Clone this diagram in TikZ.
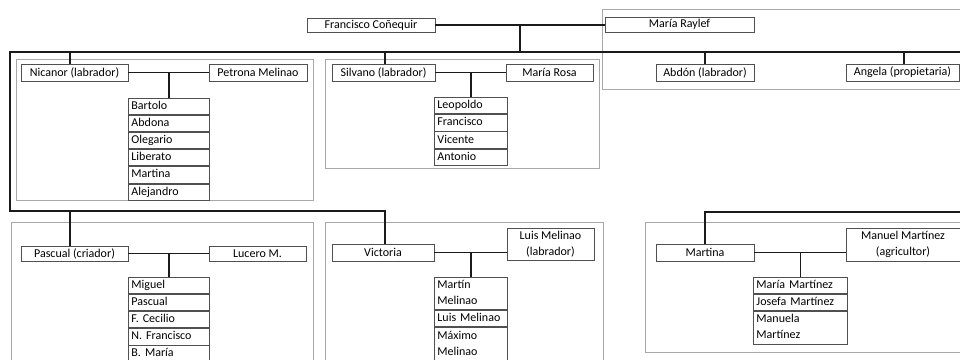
\documentclass[tikz,border=0pt]{standalone}
\usepackage{fontspec}
\setmainfont{Carlito}
\usetikzlibrary{positioning,calc}
\definecolor{boxc}{HTML}{505050}
\definecolor{framec}{HTML}{A8A8A8}
\definecolor{linec}{HTML}{1A1A1A}
\begin{document}
\begin{tikzpicture}[x=1pt,y=-1pt, font=\fontsize{12}{16}\selectfont,
 pbox/.style={draw=boxc, line width=0.9pt, fill=white, inner sep=0pt, align=center},
 kid/.style={draw=boxc, line width=0.9pt, fill=white, inner xsep=3pt, inner ysep=0pt, anchor=north west, align=left, minimum height=16.3pt, text height=8.6pt, text depth=2.6pt},
 two/.style={text depth=18.6pt},
 kidA/.style={kid, text width=75pt},
 kidB/.style={kid, text width=67pt},
 kidC/.style={kid, text width=88pt},
 frame/.style={draw=framec, line width=1pt},
 gen/.style={draw=linec, line width=1.8pt},
 couple/.style={draw=linec, line width=1.5pt},
]
\useasboundingbox (0,0) rectangle (960,359);
\clip (0,0) rectangle (960,359);
% frames
\draw[frame] (602,9) rectangle (965,89);
\draw[frame] (16,59) rectangle (313,200);
\draw[frame] (325,59) rectangle (599,168);
\draw[frame] (11,222) rectangle (313,370);
\draw[frame] (325,222) rectangle (603,370);
\draw[frame] (645,222) rectangle (970,352);
% persons
\node[pbox, minimum width=128pt, minimum height=14pt] (fran) at (371,25) {Francisco Coñequir};
\node[pbox, minimum width=149pt, minimum height=15pt] (rayl) at (679.5,24.5) {María Raylef};
\node[pbox, minimum width=107pt, minimum height=17pt] (nic) at (74.5,72.5) {Nicanor (labrador)};
\node[pbox, minimum width=98pt, minimum height=17pt] (pet) at (258,72.5) {Petrona Melinao};
\node[pbox, minimum width=103pt, minimum height=17pt] (sil) at (383.5,72.5) {Silvano (labrador)};
\node[pbox, minimum width=87pt, minimum height=17pt] (mros) at (549.5,72.5) {María Rosa};
\node[pbox, minimum width=98pt, minimum height=17pt] (abd) at (705,72.5) {Abdón (labrador)};
\node[pbox, minimum width=113pt, minimum height=17pt] (ang) at (902.5,72.5) {Angela (propietaria)};
\node[pbox, minimum width=107pt, minimum height=15pt] (pas) at (74.5,253.5) {Pascual (criador)};
\node[pbox, minimum width=97pt, minimum height=15pt] (luc) at (257.5,253.5) {Lucero M.};
\node[pbox, minimum width=102pt, minimum height=17pt] (vic) at (383,252.5) {Victoria};
\node[pbox, minimum width=87pt, minimum height=32pt] (lui) at (550.5,244) {Luis Melinao\\(labrador)};
\node[pbox, minimum width=98pt, minimum height=17pt] (mar) at (705,252.5) {Martina};
\node[pbox, minimum width=114pt, minimum height=33pt] (man) at (903,244.5) {Manuel Martínez\\(agricultor)};
% children of Nicanor
\node[kidA] (a1) at (128,97.5) {Bartolo};
\node[kidA, below=0pt of a1] (a2) {Abdona};
\node[kidA, below=0pt of a2] (a3) {Olegario};
\node[kidA, below=0pt of a3] (a4) {Liberato};
\node[kidA, below=0pt of a4] (a5) {Martina};
\node[kidA, below=0pt of a5] (a6) {Alejandro};
% children of Silvano
\node[kidB] (b1) at (434,97) {Leopoldo};
\node[kidB, below=0pt of b1] (b2) {Francisco};
\node[kidB, below=0pt of b2] (b3) {Vicente};
\node[kidB, below=0pt of b3] (b4) {Antonio};
% children of Pascual
\node[kidA, minimum height=16.2pt] (c1) at (128,277) {Miguel};
\node[kidA, minimum height=16.2pt, below=0pt of c1] (c2) {Pascual};
\node[kidA, minimum height=16.2pt, below=0pt of c2] (c3) {F. Cecilio};
\node[kidA, minimum height=16.2pt, below=0pt of c3] (c4) {N. Francisco};
\node[kidA, minimum height=16.2pt, below=0pt of c4] (c5) {B. María};
% children of Victoria
\node[kidB, two, minimum height=32pt] (d1) at (434,277) {Martín\\Melinao};
\node[kidB, below=0pt of d1] (d2) {Luis Melinao};
\node[kidB, two, minimum height=33pt, below=0pt of d2] (d3) {Máximo\\Melinao};
% children of Martina
\node[kidC, minimum height=16pt] (e1) at (753,277) {María Martínez};
\node[kidC, minimum height=16pt, below=0pt of e1] (e2) {Josefa Martínez};
\node[kidC, two, minimum height=33pt, below=0pt of e2] (e3) {Manuela\\Martínez};
% generation lines
\coordinate (g1l) at (10,52);
\coordinate (g1r) at (960,52);
\coordinate (g2l) at (10,211);
\coordinate (g2r) at (385,211);
\coordinate (g3l) at (705,212);
\coordinate (g3r) at (960,212);
\coordinate (top) at ($(fran.east)!0.5!(rayl.west)$);
\draw[couple] (fran.east) -- (fran.east -| rayl.west);
\draw[gen] (top) -- (top |- g1l);
\draw[gen] (g1r) -- (g1l) -- (g2l) -- (g2r) -- (g2r |- vic.north);
\draw[gen] ([xshift=-4.5pt]nic.north) -- ([xshift=-4.5pt]nic.north |- g1l);
\draw[gen] ([xshift=1.5pt]sil.north) -- ([xshift=1.5pt]sil.north |- g1l);
\draw[gen] (abd.north) -- (abd.north |- g1l);
\draw[gen] ([xshift=1.5pt]ang.north) -- ([xshift=1.5pt]ang.north |- g1l);
\draw[gen] ([xshift=-4.5pt]pas.north) -- ([xshift=-4.5pt]pas.north |- g2l);
\draw[gen] (g3r) -- (g3l) -- (mar.north);
% couples and children drops
\draw[couple] (nic.east) -- (pet.west);
\draw[couple] (a1.north) -- (a1.north |- nic.east);
\draw[couple] (sil.east) -- (mros.west);
\draw[couple] (b1.north) -- (b1.north |- sil.east);
\draw[couple] (pas.east) -- (luc.west);
\draw[couple] (c1.north) -- (c1.north |- pas.east);
\draw[couple] (vic.east) -- (vic.east -| lui.west);
\draw[couple] (d1.north) -- (d1.north |- vic.east);
\draw[couple] (mar.east) -- (mar.east -| man.west);
\draw[couple] (e1.north) -- (e1.north |- mar.east);
\end{tikzpicture}
\end{document}
